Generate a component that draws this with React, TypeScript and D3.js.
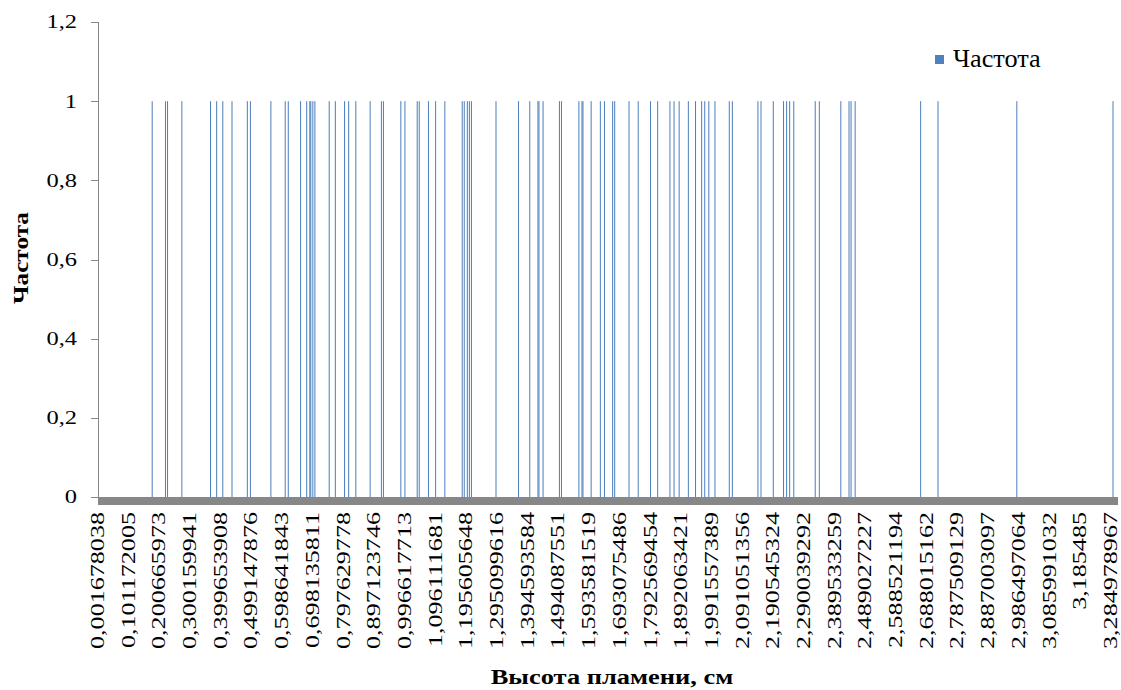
import React, { useEffect, useRef } from "react";
import * as d3 from "d3";

// Number of histogram bins (categories) on the x axis
const binCount = 991;
// Every 30th bin carries a label
const labelEvery = 30;
const tickLabels = [
  "0,001678038", "0,101172005", "0,200665973", "0,300159941", "0,399653908",
  "0,499147876", "0,598641843", "0,698135811", "0,797629778", "0,897123746",
  "0,996617713", "1,096111681", "1,195605648", "1,295099616", "1,394593584",
  "1,494087551", "1,593581519", "1,693075486", "1,792569454", "1,892063421",
  "1,991557389", "2,091051356", "2,190545324", "2,290039292", "2,389533259",
  "2,489027227", "2,588521194", "2,688015162", "2,787509129", "2,887003097",
  "2,986497064", "3,085991032", "3,185485", "3,284978967",
];
// Bins that contain a value
const occupiedBins = [
  51, 64, 66, 80, 108, 114, 120, 129, 144, 147, 167, 181, 184, 196, 202, 205,
  206, 208, 210, 224, 230, 239, 243, 250, 264, 275, 277, 294, 298, 310, 312,
  321, 328, 337, 354, 356, 359, 361, 363, 387, 409, 420, 428, 429, 433, 449,
  451, 468, 471, 472, 480, 489, 493, 501, 503, 517, 526, 538, 545, 557, 561,
  566, 575, 582, 588, 591, 595, 601, 615, 618, 643, 646, 658, 668, 671, 674,
  678, 699, 703, 724, 732, 734, 738, 802, 819, 896, 990,
];
const frequencies = [
  1, 1, 1, 1, 1, 1, 1, 1, 1, 1, 1, 1, 1, 1, 1, 1,
  1, 1, 1, 1, 1, 1, 1, 1, 1, 1, 1, 1, 1, 1, 1,
  1, 1, 1, 1, 1, 1, 1, 1, 1, 1, 1, 1, 1, 1, 1,
  1, 1, 1, 1, 1, 1, 1, 1, 1, 1, 1, 1, 1, 1, 1,
  1, 1, 1, 1, 1, 1, 1, 1, 1, 1, 1, 1, 1, 1, 1,
  1, 1, 1, 1, 1, 1, 1, 1, 1, 1, 1,
];
const yTicks = [0, 0.2, 0.4, 0.6, 0.8, 1, 1.2];
const seriesName = "Частота";
const xTitle = "Высота пламени, см";
const yTitle = "Частота";

const W = 1121;
const H = 690;
const plotLeft = 98;
const plotRight = 1118;
const plotTop = 22;
const plotBottom = 497;
const barColor = "#4F81BD";
const axisColor = "#868686";
const serif = "'Liberation Serif', 'Times New Roman', serif";

export default function App() {
  const ref = useRef<SVGSVGElement | null>(null);

  useEffect(() => {
    document.body.style.margin = "0";
    const svg = d3.select(ref.current);
    svg.selectAll("*").remove();

    const x = d3
      .scaleBand<number>()
      .domain(d3.range(binCount))
      .range([99.49, 1113.51])
      .padding(0);
    const y = d3.scaleLinear().domain([0, 1.2]).range([plotBottom, plotTop]);

    const bars = occupiedBins.map((b, i) => ({ bin: b, value: frequencies[i] }));

    // bars
    svg
      .append("g")
      .selectAll("rect")
      .data(bars)
      .join("rect")
      .attr("x", (d) => x(d.bin)!)
      .attr("width", x.bandwidth())
      .attr("y", (d) => y(d.value))
      .attr("height", (d) => y(0) - y(d.value))
      .attr("fill", barColor);

    // thick baseline
    svg
      .append("rect")
      .attr("x", plotLeft)
      .attr("y", y(0))
      .attr("width", plotRight - plotLeft)
      .attr("height", 8)
      .attr("fill", "#878787");

    // y axis
    const ya = svg.append("g");
    ya.append("line")
      .attr("x1", plotLeft + 0.5)
      .attr("x2", plotLeft + 0.5)
      .attr("y1", y(1.2))
      .attr("y2", y(0))
      .attr("stroke", axisColor);
    yTicks.forEach((t) => {
      const yy = Math.round(y(t)) + 0.5;
      ya.append("line")
        .attr("x1", plotLeft - 7)
        .attr("x2", plotLeft + 0.5)
        .attr("y1", yy)
        .attr("y2", yy)
        .attr("stroke", axisColor);
      ya.append("text")
        .attr("transform", `translate(77,${y(t)}) scale(1.36,1)`)
        .attr("text-anchor", "end")
        .attr("dy", "0.36em")
        .attr("font-family", serif)
        .attr("font-size", 18)
        .attr("fill", "#000")
        .text(String(t).replace(".", ","));
    });

    // x tick labels
    const xa = svg.append("g");
    tickLabels.forEach((lbl, k) => {
      const bin = k * labelEvery;
      const cx = x(bin)! + x.bandwidth() / 2;
      xa.append("text")
        .attr("transform", `translate(${cx},512) rotate(-90) scale(1.45,1)`)
        .attr("text-anchor", "end")
        .attr("dy", "0.22em")
        .attr("font-family", serif)
        .attr("font-size", 18)
        .attr("fill", "#000")
        .text(lbl);
    });

    // axis titles
    svg
      .append("text")
      .attr("transform", `translate(612,684) scale(1.26,1)`)
      .attr("text-anchor", "middle")
      .attr("font-family", serif)
      .attr("font-weight", "bold")
      .attr("font-size", 21)
      .text(xTitle);
    svg
      .append("text")
      .attr("transform", `translate(28,258) rotate(-90) scale(1.2,1)`)
      .attr("text-anchor", "middle")
      .attr("font-family", serif)
      .attr("font-weight", "bold")
      .attr("font-size", 21)
      .text(yTitle);

    // legend
    const lg = svg.append("g");
    lg.append("rect")
      .attr("x", 935)
      .attr("y", 55)
      .attr("width", 9)
      .attr("height", 9)
      .attr("fill", barColor);
    lg.append("text")
      .attr("transform", `translate(953,67) scale(1.05,1)`)
      .attr("font-family", serif)
      .attr("font-size", 25)
      .text(seriesName);
  }, []);

  return (
    <div style={{ position: "absolute", left: 0, top: 0 }}>
      <svg ref={ref} width={W} height={H} style={{ display: "block", background: "#fff" }} />
    </div>
  );
}
